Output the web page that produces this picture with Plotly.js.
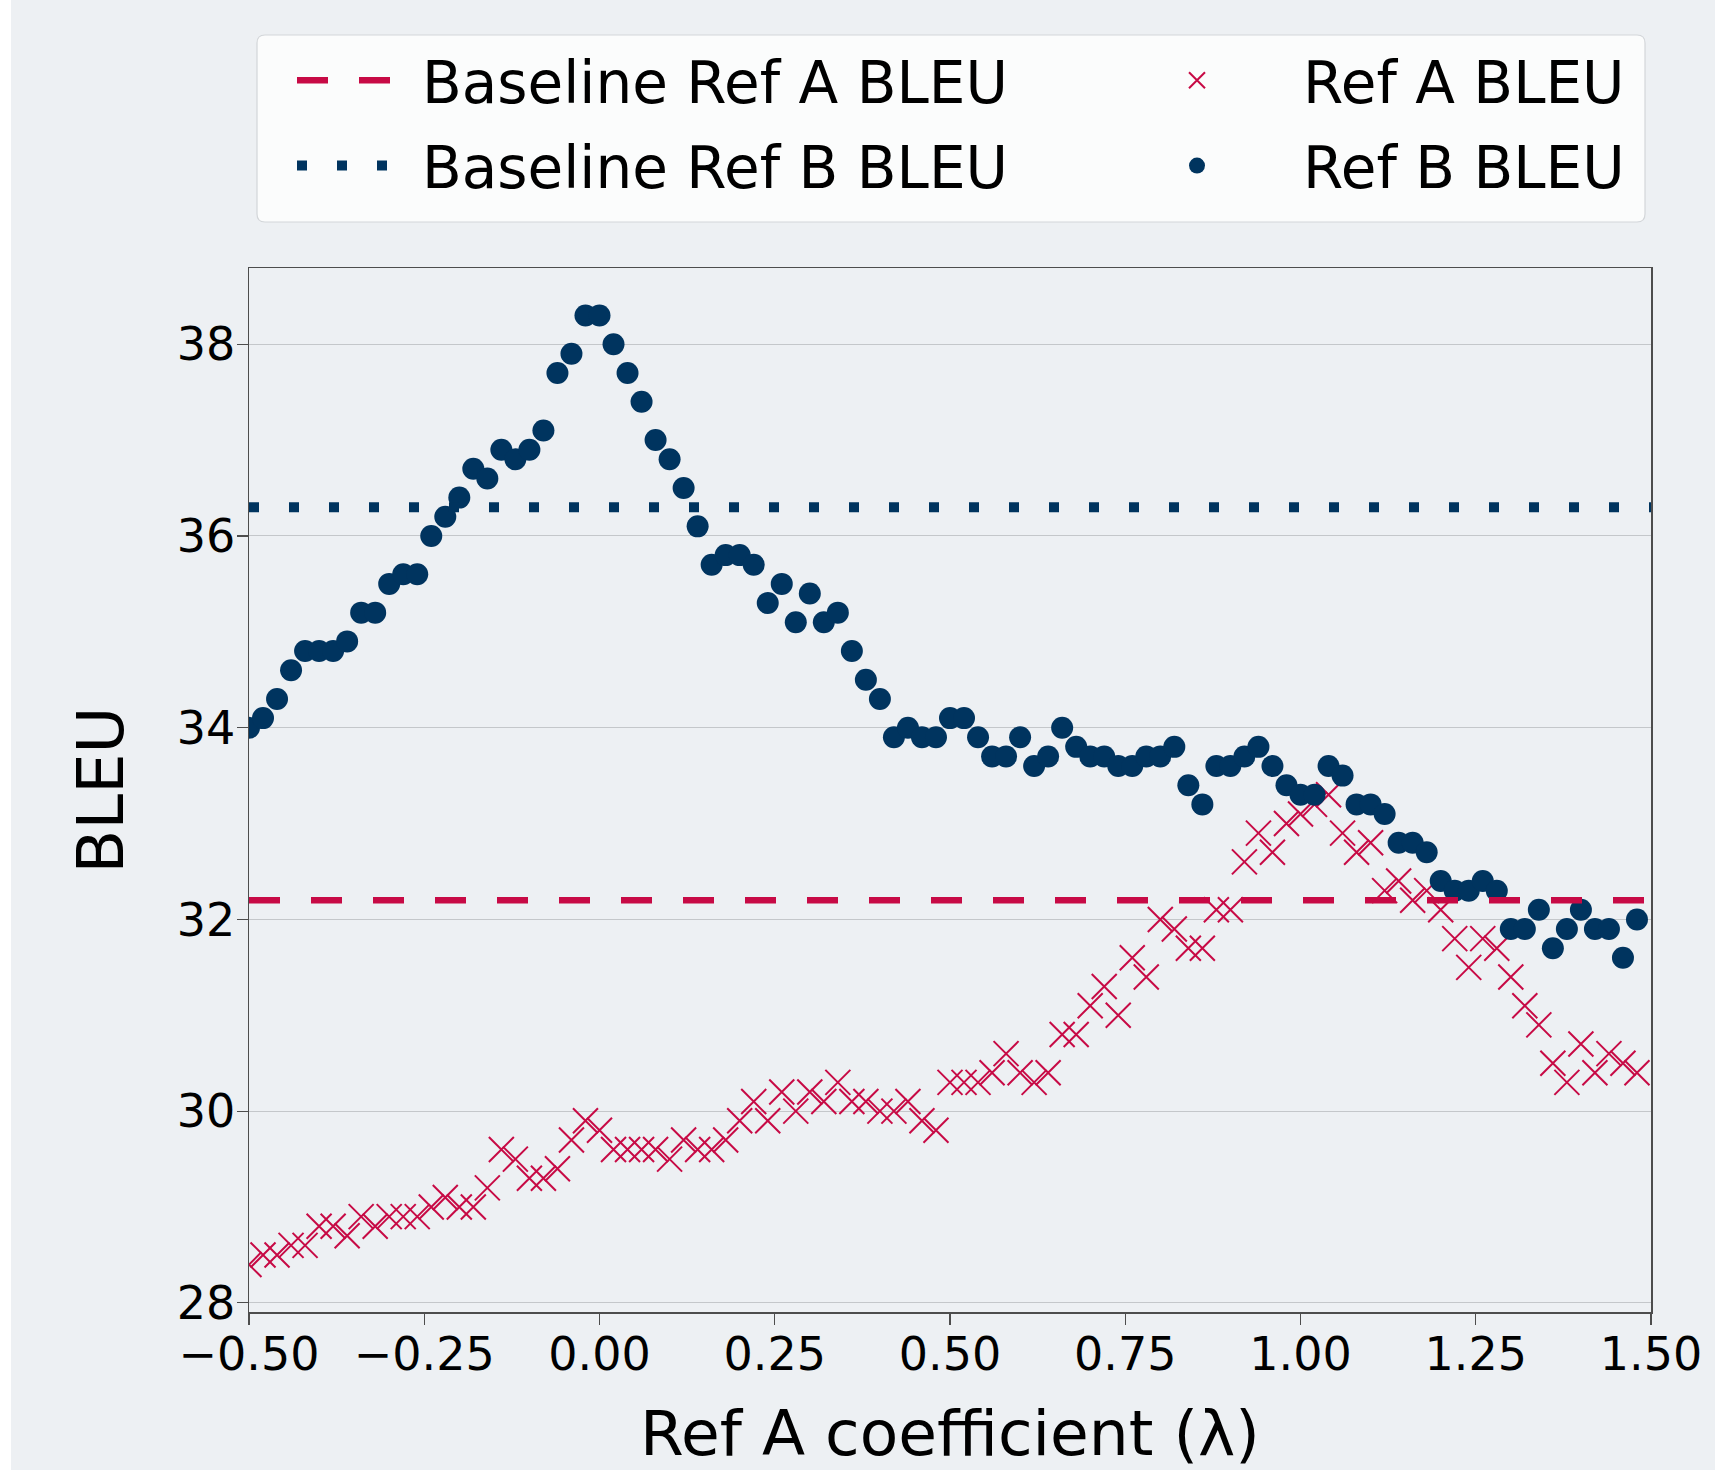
<!DOCTYPE html>
<html>
<head>
<meta charset="utf-8">
<script src="https://cdn.plot.ly/plotly-3.0.1.min.js"></script>
<style>
html, body { margin: 0; padding: 0; background: #ffffff; }
#chart { position: absolute; left: 11px; top: 0; width: 1704px; height: 1470px; }
</style>
</head>
<body>
<div id="chart"></div>
<script>
// Ref A coefficient (λ)
const lambdaValues = [
  -0.50, -0.48, -0.46, -0.44, -0.42, -0.40, -0.38, -0.36, -0.34, -0.32,
  -0.30, -0.28, -0.26, -0.24, -0.22, -0.20, -0.18, -0.16, -0.14, -0.12,
  -0.10, -0.08, -0.06, -0.04, -0.02, 0.00, 0.02, 0.04, 0.06, 0.08,
  0.10, 0.12, 0.14, 0.16, 0.18, 0.20, 0.22, 0.24, 0.26, 0.28,
  0.30, 0.32, 0.34, 0.36, 0.38, 0.40, 0.42, 0.44, 0.46, 0.48,
  0.50, 0.52, 0.54, 0.56, 0.58, 0.60, 0.62, 0.64, 0.66, 0.68,
  0.70, 0.72, 0.74, 0.76, 0.78, 0.80, 0.82, 0.84, 0.86, 0.88,
  0.90, 0.92, 0.94, 0.96, 0.98, 1.00, 1.02, 1.04, 1.06, 1.08,
  1.10, 1.12, 1.14, 1.16, 1.18, 1.20, 1.22, 1.24, 1.26, 1.28,
  1.30, 1.32, 1.34, 1.36, 1.38, 1.40, 1.42, 1.44, 1.46, 1.48
];

// Ref A BLEU (crosses)
const refABleu = [
  28.4, 28.5, 28.5, 28.6, 28.6, 28.8, 28.8, 28.7, 28.9, 28.8,
  28.9, 28.9, 28.9, 29.0, 29.1, 29.0, 29.0, 29.2, 29.6, 29.5,
  29.3, 29.3, 29.4, 29.7, 29.9, 29.8, 29.6, 29.6, 29.6, 29.6,
  29.5, 29.7, 29.6, 29.6, 29.7, 29.9, 30.1, 29.9, 30.2, 30.0,
  30.2, 30.1, 30.3, 30.1, 30.1, 30.0, 30.0, 30.1, 29.9, 29.8,
  30.3, 30.3, 30.3, 30.4, 30.6, 30.4, 30.3, 30.4, 30.8, 30.8,
  31.1, 31.3, 31.0, 31.6, 31.4, 32.0, 31.9, 31.7, 31.7, 32.1,
  32.1, 32.6, 32.9, 32.7, 33.0, 33.1, 33.2, 33.3, 32.9, 32.7,
  32.8, 32.3, 32.4, 32.2, 32.3, 32.1, 31.8, 31.5, 31.8, 31.7,
  31.4, 31.1, 30.9, 30.5, 30.3, 30.7, 30.4, 30.6, 30.5, 30.4
];

// Ref B BLEU (dots)
const refBBleu = [
  34.0, 34.1, 34.3, 34.6, 34.8, 34.8, 34.8, 34.9, 35.2, 35.2,
  35.5, 35.6, 35.6, 36.0, 36.2, 36.4, 36.7, 36.6, 36.9, 36.8,
  36.9, 37.1, 37.7, 37.9, 38.3, 38.3, 38.0, 37.7, 37.4, 37.0,
  36.8, 36.5, 36.1, 35.7, 35.8, 35.8, 35.7, 35.3, 35.5, 35.1,
  35.4, 35.1, 35.2, 34.8, 34.5, 34.3, 33.9, 34.0, 33.9, 33.9,
  34.1, 34.1, 33.9, 33.7, 33.7, 33.9, 33.6, 33.7, 34.0, 33.8,
  33.7, 33.7, 33.6, 33.6, 33.7, 33.7, 33.8, 33.4, 33.2, 33.6,
  33.6, 33.7, 33.8, 33.6, 33.4, 33.3, 33.3, 33.6, 33.5, 33.2,
  33.2, 33.1, 32.8, 32.8, 32.7, 32.4, 32.3, 32.3, 32.4, 32.3,
  31.9, 31.9, 32.1, 31.7, 31.9, 32.1, 31.9, 31.9, 31.6, 32.0
];

// Baselines
const baselineRefA = 32.2;
const baselineRefB = 36.3;
const baselineSpan = [-0.5, 1.5];

const xTickValues = [-0.5, -0.25, 0, 0.25, 0.5, 0.75, 1.0, 1.25, 1.5];
const yTickValues = [28, 30, 32, 34, 36, 38];

const RED = '#c70a45';
const BLUE = '#00345f';
const FONT = 'DejaVu Sans, sans-serif';
const LEGEND_FONT = { family: FONT, size: 58, color: '#000000' };

const traces = [
  {
    type: 'scatter', mode: 'markers', name: 'Ref A BLEU',
    legend: 'legend2', legendgroup: 'ra', legendrank: 1,
    x: lambdaValues, y: refABleu,
    marker: { symbol: 'x-thin', size: 25, color: RED, line: { color: RED, width: 2 } }
  },
  {
    type: 'scatter', mode: 'markers', name: 'Ref B BLEU',
    legend: 'legend2', legendgroup: 'rb', legendrank: 2,
    x: lambdaValues, y: refBBleu,
    marker: { symbol: 'circle', size: 22, color: BLUE, line: { width: 0 } }
  },
  {
    type: 'scatter', mode: 'lines', name: 'Baseline Ref A BLEU',
    legend: 'legend', legendgroup: 'ba', legendrank: 1,
    x: baselineSpan, y: baselineSpan.map(() => baselineRefA),
    line: { color: RED, width: 6.5, dash: '31px,31px' }
  },
  {
    type: 'scatter', mode: 'lines', name: 'Baseline Ref B BLEU',
    legend: 'legend', legendgroup: 'bb', legendrank: 2,
    x: baselineSpan, y: baselineSpan.map(() => baselineRefB),
    line: { color: BLUE, width: 10, dash: '10px,30px' }
  }
];

// page-pixel helpers for the legend frame (plot area: left 249, top 268, 1402 x 1044)
const px = v => (v - 249) / 1402;
const py = v => (1312 - v) / 1044;
const fx0 = px(257), fx1 = px(1645), fy0 = py(222), fy1 = py(35);
const rx = 8 / 1402, ry = 8 / 1044;
const framePath =
  `M ${fx0 + rx},${fy1} L ${fx1 - rx},${fy1} Q ${fx1},${fy1} ${fx1},${fy1 - ry} ` +
  `L ${fx1},${fy0 + ry} Q ${fx1},${fy0} ${fx1 - rx},${fy0} ` +
  `L ${fx0 + rx},${fy0} Q ${fx0},${fy0} ${fx0},${fy0 + ry} ` +
  `L ${fx0},${fy1 - ry} Q ${fx0},${fy1} ${fx0 + rx},${fy1} Z`;

const legendCommon = {
  orientation: 'v', xanchor: 'left', yanchor: 'top', y: py(36),
  font: LEGEND_FONT, bgcolor: 'rgba(0,0,0,0)', borderwidth: 0,
  tracegroupgap: 7, traceorder: 'grouped', itemsizing: 'trace'
};

const layout = {
  width: 1704, height: 1470,
  paper_bgcolor: '#edf0f3', plot_bgcolor: '#edf0f3',
  font: { family: FONT, color: '#000000' },
  margin: { l: 238, r: 64, t: 268, b: 158, pad: 0 },
  showlegend: true,
  legend: Object.assign({}, legendCommon, { x: px(292), itemwidth: 120 }),
  legend2: Object.assign({}, legendCommon, { x: px(1091), itemwidth: 202 }),
  shapes: [
    {
      type: 'path', xref: 'paper', yref: 'paper', layer: 'below',
      path: framePath, fillcolor: '#fbfcfc', line: { color: '#d3d6d9', width: 1.2 }
    }
  ],
  xaxis: {
    range: [-0.5, 1.5], tickvals: xTickValues, tickformat: '.2f',
    ticks: 'outside', ticklen: 11, tickwidth: 1.2, tickcolor: '#4d4d4d',
    ticklabelstandoff: -10,
    showline: true, linecolor: '#4d4d4d', linewidth: 1.5, mirror: true,
    showgrid: false, zeroline: false,
    tickfont: { family: FONT, size: 46, color: '#000000' },
    title: { text: 'Ref A coefficient (λ)', font: { family: FONT, size: 63, color: '#000000' }, standoff: 62 }
  },
  yaxis: {
    range: [27.905, 38.795], tickvals: yTickValues,
    ticks: 'outside', ticklen: 11, tickwidth: 1.2, tickcolor: '#4d4d4d',
    ticklabelstandoff: -8,
    showline: true, linecolor: '#4d4d4d', linewidth: 1.5, mirror: true,
    showgrid: true, gridcolor: '#c4c7ca', gridwidth: 1, zeroline: false,
    tickfont: { family: FONT, size: 46, color: '#000000' },
    title: { text: 'BLEU', font: { family: FONT, size: 64, color: '#000000' }, standoff: 32 }
  }
};

Plotly.newPlot('chart', traces, layout, { displayModeBar: false, staticPlot: true });
</script>
</body>
</html>
